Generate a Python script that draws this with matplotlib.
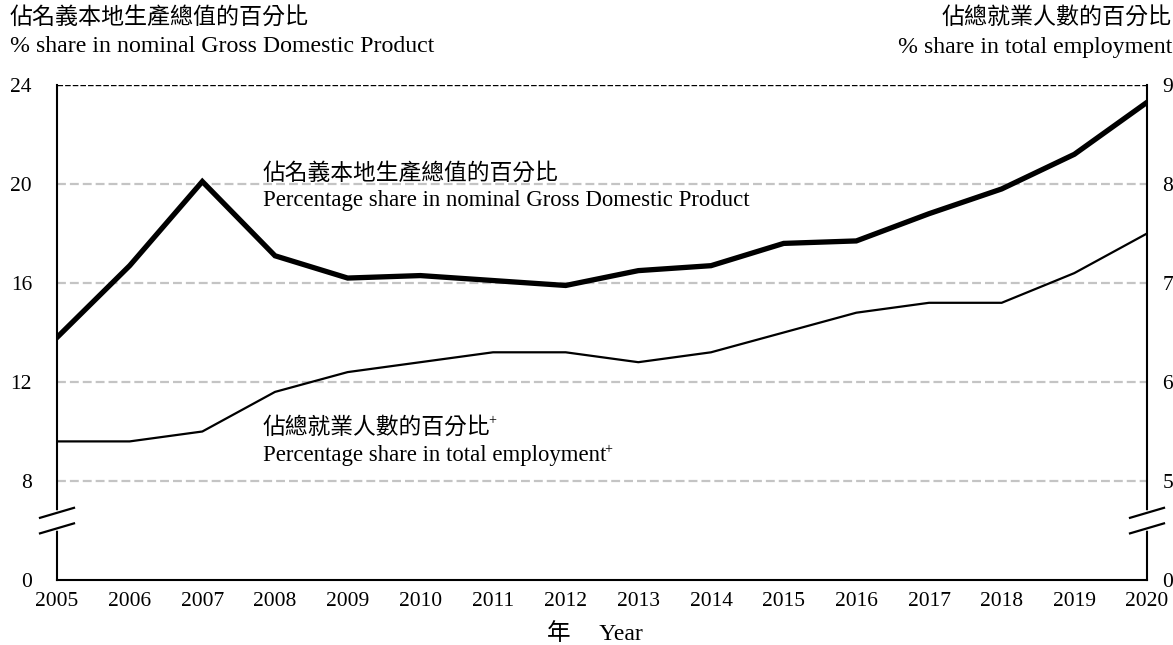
import numpy as np
import matplotlib
matplotlib.use("Agg")
import matplotlib.pyplot as plt

plt.rcParams['font.family'] = ['Liberation Serif', 'Noto Sans CJK TC']

years = list(range(2005, 2021))
gdp_share = [13.8, 16.7, 20.1, 17.1, 16.2, 16.3, 16.1, 15.9, 16.5, 16.7, 17.6, 17.7, 18.8, 19.8, 21.2, 23.3]
emp_share = [5.4, 5.4, 5.5, 5.9, 6.1, 6.2, 6.3, 6.3, 6.2, 6.3, 6.5, 6.7, 6.8, 6.8, 7.1, 7.5]
left_ticks = [0, 8, 12, 16, 20, 24]
right_ticks = [0, 5, 6, 7, 8, 9]


# axis is broken between 0 and the first real tick
def left_pos(v):
    v = np.asarray(v, float)
    return np.where(v >= 8, (v - 8) / 4 + 1, v / 8)


def right_pos(v):
    v = np.asarray(v, float)
    return np.where(v >= 5, v - 4, v / 5)


W, H = 1173, 645
fig = plt.figure(figsize=(W / 100, H / 100), dpi=100)
ax = fig.add_axes([57 / W, (H - 580) / H, 1090 / W, 495 / H])
ax.set_xlim(2005, 2020)
ax.set_ylim(0, 5)

for p in left_pos([8, 12, 16, 20]):
    ax.axhline(p, color='#c4c4c4', lw=1.6, dashes=(4, 1.8), zorder=1)
ax.axhline(5, color='black', lw=1, dashes=(4, 1.5), zorder=1)

ax.plot(years, left_pos(gdp_share), color='black', lw=3.8, solid_joinstyle='miter', zorder=3)
ax.plot(years, right_pos(emp_share), color='black', lw=1.6, zorder=3)

ax.spines['top'].set_visible(False)
for s in ['left', 'right', 'bottom']:
    ax.spines[s].set_linewidth(1.5)

ax.set_xticks(years)
ax.set_xticklabels([str(y) for y in years], fontsize=15.5)
ax.set_yticks(left_pos(left_ticks))
ax.set_yticklabels([str(t) for t in left_ticks], fontsize=15.5)
ax.tick_params(axis='x', length=0, pad=9)
ax.tick_params(axis='y', length=0, pad=18)

ax2 = ax.twinx()
ax2.set_ylim(0, 5)
ax2.set_yticks(right_pos(right_ticks))
ax2.set_yticklabels([str(t) for t in right_ticks], fontsize=15.5)
ax2.tick_params(axis='y', length=0, pad=11)
for s in ax2.spines.values():
    s.set_visible(False)

# break marks on both vertical axes
yc = 0.12
for x in [0, 1]:
    ax.plot([x, x], [yc - 0.015, yc + 0.015], color='white', lw=4,
            transform=ax.transAxes, clip_on=False, zorder=5)
    for off in [-0.0157, 0.0157]:
        ax.plot([x - 0.0156, x + 0.0156], [yc + off - 0.0101, yc + off + 0.0101],
                color='black', lw=1.6, transform=ax.transAxes, clip_on=False, zorder=6)


def with_plus(x, y, s):
    t = ax.text(x, y, s, fontsize=16.4, va='center', ha='left')
    ax.annotate('+', xy=(1, 0.8), xycoords=t, xytext=(-1.5, 0), textcoords='offset points',
                fontsize=10, va='center', ha='left')


# inline labels
ax.text(2007.83, 4.10, '佔名義本地生產總值的百分比', fontsize=16.4, va='center', ha='left')
ax.text(2007.83, 3.83, 'Percentage share in nominal Gross Domestic Product', fontsize=16.4, va='center', ha='left')
with_plus(2007.83, 1.54, '佔總就業人數的百分比')
with_plus(2007.83, 1.255, 'Percentage share in total employment')

# axis titles
fig.text(10 / W, 1 - 18 / H, '佔名義本地生產總值的百分比', fontsize=16.6, va='center', ha='left')
fig.text(10 / W, 1 - 47 / H, '% share in nominal Gross Domestic Product', fontsize=17.2, va='center', ha='left')
fig.text(1172 / W, 1 - 18 / H, '佔總就業人數的百分比', fontsize=16.6, va='center', ha='right')
fig.text(1172 / W, 1 - 47 / H, '% share in total employment', fontsize=17.2, va='center', ha='right')
fig.text(595 / W, 1 - 634 / H, '年     Year', fontsize=17, va='center', ha='center')

fig.savefig('out.png', dpi=100)
